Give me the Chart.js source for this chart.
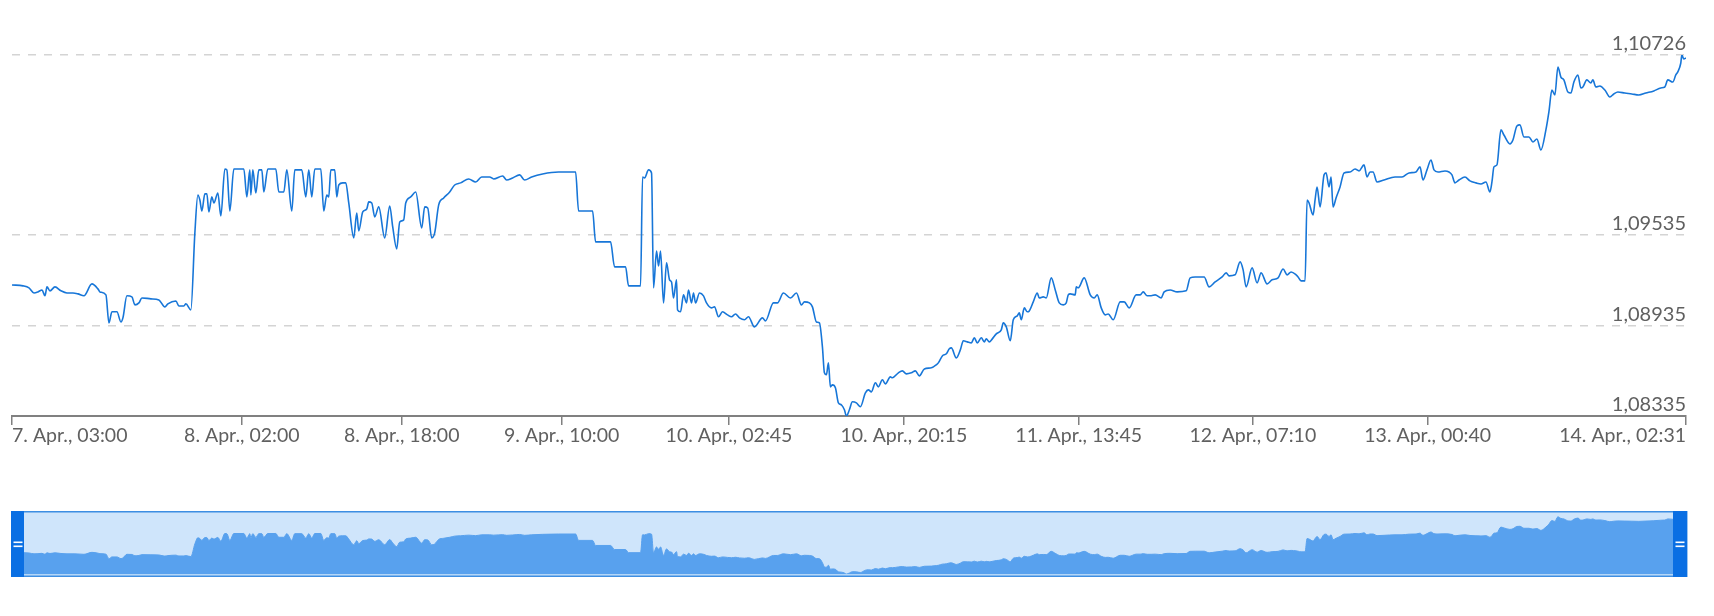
<!DOCTYPE html>
<html>
<head>
<meta charset="utf-8">
<script src="https://cdn.jsdelivr.net/npm/chart.js@4.4.1/dist/chart.umd.min.js"></script>
<style>
  html, body { margin: 0; padding: 0; background: #fff; }
  #main { position: absolute; left: 0; top: 0; }
  #nav { position: absolute; left: 0; top: 500px; }
</style>
</head>
<body>
<canvas id="main" width="1714" height="470"></canvas>
<canvas id="nav" width="1714" height="90"></canvas>
<script>
// EUR/USD-style quote, x = hours since 7. Apr. 03:00
const HOURS = [
  0.0,1.1,1.7,2.2,2.6,3.0,3.3,3.5,3.8,4.3,4.9,5.5,6.1,6.6,7.2,8.0,8.6,8.8,9.4,9.7,
  10.0,10.5,10.9,11.1,11.5,12.0,12.3,12.7,13.0,13.9,14.7,15.3,15.6,16.4,16.7,17.2,17.4,17.9,
  18.3,18.6,18.8,19.0,19.3,19.5,19.7,20.0,20.2,20.6,20.9,21.3,21.5,21.8,22.2,23.2,23.5,23.8,23.9,24.1,
  24.4,24.7,25.0,25.2,25.6,26.4,26.7,27.2,27.5,28.0,28.3,29.0,29.4,29.7,30.0,30.3,30.9,31.2,31.5,31.7,
  31.9,32.3,32.5,32.7,33.1,33.4,33.7,34.2,34.5,34.7,35.1,35.5,35.7,36.0,36.3,36.7,37.3,37.8,38.1,38.5,
  38.8,39.2,39.4,39.9,40.4,41.0,41.3,41.6,42.0,42.3,42.7,43.2,43.8,44.3,44.9,45.7,46.4,47.0,47.8,48.2,
  49.1,49.5,50.1,50.8,51.3,52.0,53.1,54.7,56.4,
  56.7,58.1,58.4,59.9,60.3,61.4,61.7,62.9,63.1,63.3,63.7,64.0,64.2,64.5,64.7,64.9,65.2,65.5,65.8,66.0,
  66.2,66.5,66.6,66.9,67.2,67.5,67.7,68.0,68.2,68.4,68.8,69.2,69.5,70.0,70.3,70.7,71.1,71.6,72.0,72.4,
  72.8,73.3,73.7,74.3,75.1,75.4,76.2,76.6,77.2,77.9,78.5,79.0,79.3,79.8,80.1,80.5,80.8,81.1,81.3,81.5,
  81.7,81.9,82.1,82.4,82.7,83.0,83.3,83.5,83.8,84.1,84.5,84.9,85.4,85.7,86.0,86.4,86.7,87.1,87.4,87.9,
  88.1,88.7,89.1,89.5,90.0,90.4,90.8,91.3,92.0,92.5,92.7,93.1,93.5,93.8,94.0,94.5,94.9,95.2,95.6,96.0,
  96.3,96.6,97.0,97.3,97.5,97.8,98.1,98.5,99.0,99.2,99.5,99.9,
  100.2,100.6,100.8,101.0,101.3,101.6,101.8,102.2,102.6,102.8,103.2,103.5,104.0,104.4,104.8,105.2,105.5,105.7,105.9,106.4,
  106.5,106.7,107.3,107.9,108.3,108.6,109.0,109.4,109.7,110.2,110.9,111.3,111.8,112.5,112.9,113.2,113.6,114.0,114.4,115.0,
  115.3,115.9,116.6,117.5,117.9,118.4,119.3,119.8,120.4,121.1,121.5,121.8,122.4,122.9,123.2,123.5,124.1,124.6,125.0,125.6,
  126.1,126.7,127.2,127.6,128.0,128.5,128.7,129.0,129.4,
  129.6,129.8,130.2,130.4,130.6,130.9,131.3,131.5,131.8,132.0,132.2,132.5,132.9,133.3,133.9,134.4,134.8,135.3,135.6,135.9,
  136.2,136.6,137.3,138.4,139.1,139.8,140.5,140.9,141.2,141.6,142.0,142.3,142.7,143.4,144.1,144.4,144.8,145.4,145.9,146.5,
  147.0,147.5,147.9,148.1,148.3,148.6,
  149.0,149.3,149.9,150.2,150.6,150.9,151.3,151.8,152.2,152.6,153.0,153.5,153.8,154.1,154.4,154.7,155.0,155.3,155.7,156.0,
  156.3,156.7,157.0,157.2,157.6,158.0,158.2,158.5,158.9,159.4,159.9,160.3,160.7,161.4,162.1,162.8,163.5,164.3,165.0,165.4,
  165.7,166.2,166.5,166.7,167.0,167.1,167.3,167.52
];

const PRICES = [
  1.09203,1.09197,1.09184,1.09150,1.09157,1.09170,1.09131,1.09190,1.09164,1.09190,1.09164,1.09150,1.09150,1.09144,1.09131,1.09210,1.09177,1.09157,1.09137,1.08952,
  1.09025,1.09025,1.08958,1.08985,1.09131,1.09124,1.09071,1.09084,1.09117,1.09111,1.09104,1.09058,1.09078,1.09097,1.09064,1.09064,1.09078,1.09038,
  1.09548,1.09799,1.09766,1.09693,1.09806,1.09806,1.09687,1.09786,1.09746,1.09812,1.09660,1.09971,1.09965,1.09693,1.09971,1.09971,1.09786,1.09965,1.09799,1.09965,
  1.09812,1.09965,1.09965,1.09819,1.09971,1.09971,1.09819,1.09819,1.09965,1.09693,1.09965,1.09965,1.09786,1.09965,1.09786,1.09971,1.09971,1.09693,1.09799,1.09786,
  1.09965,1.09965,1.09786,1.09865,1.09879,1.09879,1.09746,1.09515,1.09680,1.09561,1.09687,1.09706,1.09753,1.09746,1.09654,1.09720,1.09515,1.09726,1.09587,1.09442,
  1.09620,1.09634,1.09746,1.09786,1.09819,1.09581,1.09720,1.09713,1.09515,1.09548,1.09733,1.09779,1.09819,1.09865,1.09879,1.09905,1.09885,1.09918,1.09918,1.09905,
  1.09925,1.09898,1.09912,1.09932,1.09898,1.09918,1.09938,1.09951,1.09951,
  1.09693,1.09693,1.09488,1.09488,1.09323,1.09323,1.09197,1.09197,1.09918,1.09912,1.09965,1.09945,1.09184,1.09428,1.09329,1.09428,1.09084,1.09349,1.09237,1.09223,
  1.09117,1.09237,1.09038,1.09025,1.09137,1.09084,1.09170,1.09084,1.09150,1.09084,1.09150,1.09131,1.09084,1.09051,1.09058,1.08992,1.09025,1.09005,1.08992,1.09011,
  1.08985,1.08972,1.08992,1.08925,1.08985,1.08965,1.09084,1.09084,1.09150,1.09117,1.09150,1.09071,1.09091,1.09084,1.09058,1.08958,1.08952,1.08793,1.08621,1.08608,
  1.08687,1.08528,1.08541,1.08522,1.08422,1.08409,1.08376,1.08335,1.08376,1.08429,1.08422,1.08396,1.08488,1.08508,1.08495,1.08555,1.08528,1.08575,1.08548,1.08594,
  1.08588,1.08621,1.08634,1.08614,1.08621,1.08634,1.08601,1.08647,1.08654,1.08674,1.08687,1.08733,1.08747,1.08780,1.08786,1.08720,1.08773,1.08833,1.08826,1.08819,
  1.08853,1.08819,1.08853,1.08826,1.08846,1.08826,1.08846,1.08879,1.08906,1.08952,1.08925,1.08833,
  1.08972,1.08998,1.09018,1.08972,1.09051,1.09025,1.09031,1.09091,1.09150,1.09117,1.09124,1.09117,1.09250,1.09170,1.09084,1.09071,1.09084,1.09137,1.09144,1.09137,
  1.09190,1.09184,1.09250,1.09137,1.09117,1.09137,1.09051,1.09005,1.09011,1.08972,1.09091,1.09091,1.09051,1.09137,1.09137,1.09157,1.09131,1.09131,1.09137,1.09117,
  1.09157,1.09170,1.09157,1.09164,1.09250,1.09256,1.09256,1.09190,1.09223,1.09256,1.09283,1.09263,1.09270,1.09356,1.09303,1.09190,1.09316,1.09217,1.09283,1.09210,
  1.09237,1.09250,1.09309,1.09270,1.09289,1.09270,1.09256,1.09230,1.09230,
  1.09766,1.09746,1.09667,1.09766,1.09852,1.09720,1.09932,1.09945,1.09852,1.09918,1.09720,1.09779,1.09852,1.09945,1.09951,1.09971,1.09958,1.09998,1.09918,1.09951,
  1.09951,1.09885,1.09898,1.09918,1.09918,1.09945,1.09951,1.09985,1.09898,1.09965,1.10031,1.09965,1.09951,1.09958,1.09932,1.09879,1.09898,1.09918,1.09892,1.09879,
  1.09872,1.09885,1.09819,1.09885,1.09985,1.09998,
  1.10230,1.10196,1.10137,1.10163,1.10256,1.10263,1.10183,1.10183,1.10150,1.10170,1.10097,1.10230,1.10349,1.10494,1.10461,1.10647,1.10580,1.10561,1.10481,1.10474,
  1.10547,1.10594,1.10508,1.10514,1.10561,1.10541,1.10561,1.10514,1.10521,1.10494,1.10448,1.10468,1.10481,1.10474,1.10468,1.10461,1.10474,1.10488,1.10508,1.10514,
  1.10561,1.10547,1.10594,1.10614,1.10673,1.10726,1.10700,1.10706
];

const TICK_HOURS = [0, 23, 39, 55, 71.75, 89.25, 106.75, 124.17, 141.67, 167.52];
const TICK_LABELS = [
  '7. Apr., 03:00', '8. Apr., 02:00', '8. Apr., 18:00', '9. Apr., 10:00', '10. Apr., 02:45',
  '10. Apr., 20:15', '11. Apr., 13:45', '12. Apr., 07:10', '13. Apr., 00:40', '14. Apr., 02:31'
];
const PRICE_TICKS = [1.08335, 1.08935, 1.09535, 1.10726];

const points = HOURS.map((h, i) => ({ x: h, y: PRICES[i] }));
const fmt = v => Number(v).toFixed(5).replace('.', ',');

Chart.defaults.font.family = "Lato, 'Open Sans', sans-serif";
Chart.defaults.font.size = 20;
Chart.defaults.color = '#606060';

new Chart(document.getElementById('main'), {
  type: 'line',
  data: {
    datasets: [{
      data: points,
      borderColor: '#1776d8',
      borderWidth: 1.6,
      pointRadius: 0,
      cubicInterpolationMode: 'monotone',
      fill: false,
    }]
  },
  options: {
    responsive: false,
    animation: false,
    layout: { padding: { left: 12, right: 28, top: 55, bottom: 23.6 } },
    plugins: { legend: { display: false }, tooltip: { enabled: false } },
    scales: {
      x: {
        type: 'linear',
        min: 0,
        max: 167.52,
        afterBuildTicks: (s) => { s.ticks = TICK_HOURS.map(v => ({ value: v })); },
        grid: { drawOnChartArea: false, drawTicks: true, tickLength: 9, color: '#808080', lineWidth: 1.5 },
        border: { display: true, color: '#808080', width: 2 },
        ticks: {
          autoSkip: false,
          maxRotation: 0,
          align: 'inner',
          padding: -1,
          font: { size: 19.5 },
          callback: (v, i) => TICK_LABELS[i],
        }
      },
      y: {
        position: 'right',
        min: 1.08335,
        max: 1.10726,
        afterBuildTicks: (s) => { s.ticks = PRICE_TICKS.map(v => ({ value: v })); },
        grid: { color: '#d4d4d4', lineWidth: 1.5, drawTicks: false },
        border: { display: false, dash: [8, 8] },
        ticks: { mirror: true, padding: 0, labelOffset: -11, callback: (v) => fmt(v) }
      }
    }
  }
});

// navigator frame: light mask, outline and the two grab handles
const navFrame = {
  id: 'navFrame',
  beforeDatasetsDraw(chart) {
    const c = chart.ctx;
    c.save();
    c.fillStyle = '#cfe5fb';
    c.fillRect(11, 12, 1676, 64);
    c.restore();
  },
  afterDatasetsDraw(chart) {
    const c = chart.ctx;
    c.save();
    c.fillStyle = '#b3d6f8';
    c.fillRect(24, 74, 1649, 1.5);
    c.strokeStyle = '#3d8ee2';
    c.lineWidth = 1.5;
    c.strokeRect(11.75, 11.75, 1675, 64.5);
    c.fillStyle = '#0a6fe3';
    c.fillRect(11, 11, 13, 66);
    c.fillRect(1673, 11, 14, 66);
    c.fillStyle = '#ffffff';
    [13.5, 1675.5].forEach(x => {
      c.fillRect(x, 41.5, 9, 1.6);
      c.fillRect(x, 45.5, 9, 1.6);
    });
    c.restore();
  }
};

new Chart(document.getElementById('nav'), {
  type: 'line',
  data: {
    datasets: [{
      data: points,
      borderColor: '#58a1ee',
      borderWidth: 1,
      backgroundColor: '#58a1ee',
      fill: 'start',
      pointRadius: 0,
      cubicInterpolationMode: 'monotone',
    }]
  },
  options: {
    responsive: false,
    animation: false,
    layout: { padding: { left: 12, right: 28, top: 13, bottom: 16 } },
    plugins: { legend: { display: false }, tooltip: { enabled: false } },
    scales: {
      x: { type: 'linear', display: false, min: 0, max: 167.52 },
      y: { display: false, min: 1.08335, max: 1.1080 }
    }
  },
  plugins: [navFrame]
});
</script>
</body>
</html>
